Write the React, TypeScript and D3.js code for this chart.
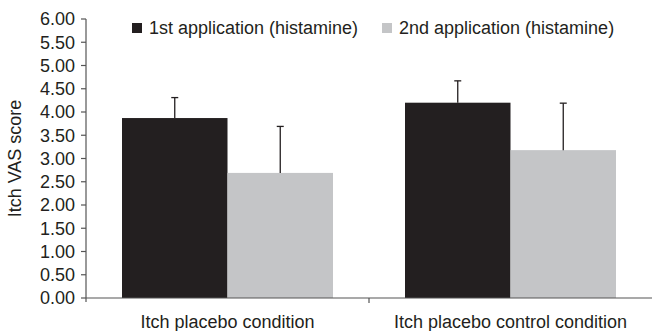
import React from "react";
import * as d3 from "d3";

const categories = ["Itch placebo condition", "Itch placebo control condition"];
const seriesNames = ["1st application (histamine)", "2nd application (histamine)"];
const firstMeans = [3.87, 4.2];
const firstErr = [0.44, 0.47];
const secondMeans = [2.69, 3.18];
const secondErr = [1.0, 1.01];
const yTicks = [0, 0.5, 1, 1.5, 2, 2.5, 3, 3.5, 4, 4.5, 5, 5.5, 6];
const colors = ["#231f20", "#c4c5c7"];

const W = 652;
const H = 331;
const left = 86;
const right = 652;
const top = 19;
const bottom = 298;
const groupPad = 36;
const font = "'Liberation Sans', Arial, sans-serif";
const axisColor = "#555";

export default function App() {
  const y = d3.scaleLinear().domain([0, 6]).range([bottom, top]);
  const x0 = d3.scaleBand<string>().domain(categories).range([left, right]);
  const x1 = d3
    .scaleBand<string>()
    .domain(seriesNames)
    .range([groupPad, x0.bandwidth() - groupPad]);
  const means = [firstMeans, secondMeans];
  const errs = [firstErr, secondErr];

  return (
    <svg
      width={W}
      height={H}
      style={{ position: "absolute", left: 0, top: 0, background: "#fff" }}
      fontFamily={font}
    >
      {/* bars */}
      {categories.map((c, ci) =>
        seriesNames.map((s, si) => {
          const v = means[si][ci];
          const bx = (x0(c) as number) + (x1(s) as number);
          return (
            <rect
              key={c + s}
              x={bx}
              y={y(v)}
              width={x1.bandwidth()}
              height={y(0) - y(v)}
              fill={colors[si]}
            />
          );
        })
      )}
      {/* error bars */}
      {categories.map((c, ci) =>
        seriesNames.map((s, si) => {
          const v = means[si][ci];
          const e = errs[si][ci];
          const cx = (x0(c) as number) + (x1(s) as number) + x1.bandwidth() / 2;
          return (
            <g key={"e" + c + s} stroke="#231f20" strokeWidth={1.3}>
              <line x1={cx} x2={cx} y1={y(v)} y2={y(v + e)} />
              <line x1={cx - 3.5} x2={cx + 3.5} y1={y(v + e)} y2={y(v + e)} />
            </g>
          );
        })
      )}
      {/* y axis */}
      <line x1={left} x2={left} y1={y(6)} y2={bottom + 4} stroke={axisColor} strokeWidth={1.2} />
      {yTicks.map((t) => (
        <g key={t}>
          <line x1={left - 5} x2={left} y1={y(t)} y2={y(t)} stroke={axisColor} strokeWidth={1.2} />
          <text
            x={left - 11}
            y={y(t)}
            dy="0.36em"
            textAnchor="end"
            fontSize={18}
            fill="#231f20"
          >
            {t.toFixed(2)}
          </text>
        </g>
      ))}
      {/* x axis */}
      <line x1={left} x2={right} y1={bottom} y2={bottom} stroke={axisColor} strokeWidth={1.2} />
      {categories.map((c, i) =>
        i > 0 ? (
          <line
            key={"t" + c}
            x1={x0(c) as number}
            x2={x0(c) as number}
            y1={bottom}
            y2={bottom + 5}
            stroke={axisColor}
            strokeWidth={1.2}
          />
        ) : null
      )}
      {categories.map((c) => (
        <text
          key={"l" + c}
          x={(x0(c) as number) + x0.bandwidth() / 2}
          y={328}
          textAnchor="middle"
          fontSize={18}
          fill="#231f20"
        >
          {c}
        </text>
      ))}
      {/* y title */}
      <text
        transform={`translate(21,${(top + bottom) / 2}) rotate(-90)`}
        textAnchor="middle"
        fontSize={18}
        fill="#231f20"
      >
        Itch VAS score
      </text>
      {/* legend */}
      {seriesNames.map((s, i) => {
        const lx = i === 0 ? 132 : 382;
        return (
          <g key={"lg" + s}>
            <rect x={lx} y={23} width={10} height={10} fill={colors[i]} />
            <text x={lx + 17} y={34} fontSize={18} fill="#231f20">
              {s}
            </text>
          </g>
        );
      })}
    </svg>
  );
}
